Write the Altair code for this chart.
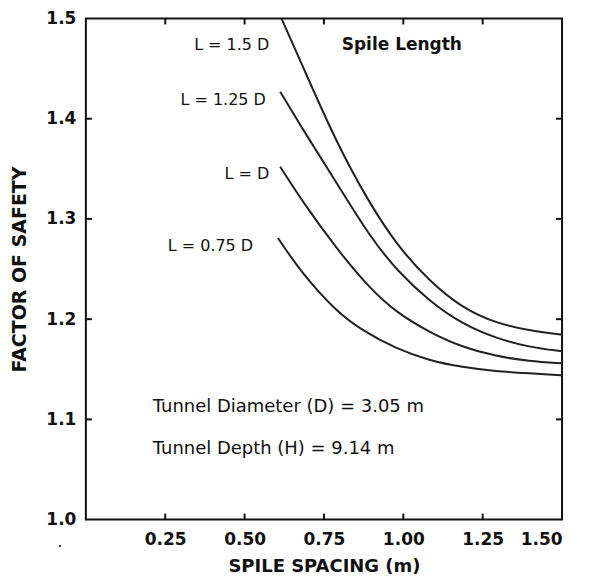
import altair as alt
import pandas as pd

# ---- data ----
series_names = ["L = 1.5 D", "L = 1.25 D", "L = D", "L = 0.75 D"]

x_15 = [0.612, 0.678, 0.788, 0.887, 0.981, 1.082, 1.186, 1.292, 1.396, 1.500]
y_15 = [1.503, 1.456, 1.377, 1.319, 1.273, 1.238, 1.211, 1.196, 1.1885, 1.1845]

x_125 = [0.612, 0.682, 0.788, 0.893, 0.981, 1.082, 1.186, 1.292, 1.396, 1.500]
y_125 = [1.427, 1.390, 1.337, 1.283, 1.248, 1.218, 1.195, 1.181, 1.172, 1.168]

x_10 = [0.612, 0.682, 0.788, 0.893, 0.981, 1.082, 1.186, 1.292, 1.396, 1.500]
y_10 = [1.352, 1.3175, 1.271, 1.231, 1.206, 1.187, 1.172, 1.163, 1.158, 1.156]

x_075 = [0.605, 0.682, 0.788, 0.871, 0.977, 1.082, 1.186, 1.292, 1.396, 1.500]
y_075 = [1.281, 1.245, 1.208, 1.1885, 1.1706, 1.1587, 1.152, 1.148, 1.146, 1.144]

x_ticks = [0.25, 0.50, 0.75, 1.00, 1.25, 1.50]
y_ticks = [1.0, 1.1, 1.2, 1.3, 1.4, 1.5]
x_inner_ticks = [0.25, 0.50, 0.75, 1.00, 1.25]
y_inner_ticks = [1.1, 1.2, 1.3, 1.4]

# label annotations (text, x, y, align)
label_text = ["L = 1.5 D", "L = 1.25 D", "L = D", "L = 0.75 D", "Spile Length"]
label_x = [0.578, 0.567, 0.578, 0.527, 0.806]
label_y = [1.474, 1.419, 1.345, 1.273, 1.474]
label_align = ["right", "right", "right", "right", "left"]

note_text = ["Tunnel Diameter (D) = 3.05 m", "Tunnel Depth (H) = 9.14 m"]
note_x = [0.211, 0.211]
note_y = [1.112, 1.070]

W, H = 477, 502

rows = []
for name, xs, ys in zip(series_names, [x_15, x_125, x_10, x_075], [y_15, y_125, y_10, y_075]):
    for i, (a, b) in enumerate(zip(xs, ys)):
        rows.append({"series": name, "x": a, "y": b, "order": i})
df = pd.DataFrame(rows)

xscale = alt.Scale(domain=[0, 1.5], nice=False, zero=False)
yscale = alt.Scale(domain=[1.0, 1.5], nice=False, zero=False)

FONT = "DejaVu Sans"
INK = "#111111"

lines = alt.Chart(df).mark_line(
    color="#222222", strokeWidth=2, interpolate="basis", clip=True
).encode(
    x=alt.X("x:Q", scale=xscale, axis=alt.Axis(
        values=x_ticks, format=".2f", title="SPILE SPACING (m)",
        ticks=False, domain=False, grid=False, labelPadding=12,
        labelFontSize=17, labelFont=FONT, labelColor=INK, labelFontWeight="bold",
        titleFontSize=18, titleFont=FONT, titleFontWeight="bold", titleColor=INK,
        titleY=47, titleBaseline="middle")),
    y=alt.Y("y:Q", scale=yscale, axis=alt.Axis(
        values=y_ticks, format=".1f", title="FACTOR OF SAFETY",
        ticks=False, domain=False, grid=False, labelPadding=10,
        labelFontSize=17, labelFont=FONT, labelColor=INK, labelFontWeight="bold",
        titleFontSize=19, titleFont=FONT, titleFontWeight="bold", titleColor=INK,
        titleX=-66, titleBaseline="middle")),
    detail="series:N",
    order="order:Q",
)

xt = pd.DataFrame({"v": x_inner_ticks})
yt = pd.DataFrame({"v": y_inner_ticks})

xtick_bottom = alt.Chart(xt).mark_rule(color=INK, strokeWidth=2).encode(
    x=alt.X("v:Q", scale=xscale), y=alt.value(H), y2=alt.value(H - 6))
xtick_top = alt.Chart(xt).mark_rule(color=INK, strokeWidth=2).encode(
    x=alt.X("v:Q", scale=xscale), y=alt.value(0), y2=alt.value(6))
ytick_left = alt.Chart(yt).mark_rule(color=INK, strokeWidth=2).encode(
    y=alt.Y("v:Q", scale=yscale), x=alt.value(0), x2=alt.value(6))
ytick_right = alt.Chart(yt).mark_rule(color=INK, strokeWidth=2).encode(
    y=alt.Y("v:Q", scale=yscale), x=alt.value(W), x2=alt.value(W - 6))

ldf = pd.DataFrame({"t": label_text, "x": label_x, "y": label_y, "a": label_align})
labels_r = alt.Chart(ldf[ldf.a == "right"]).mark_text(
    align="right", baseline="middle", fontSize=16, font=FONT, color=INK
).encode(x=alt.X("x:Q", scale=xscale), y=alt.Y("y:Q", scale=yscale), text="t:N")
labels_l = alt.Chart(ldf[ldf.a == "left"]).mark_text(
    align="left", baseline="middle", fontSize=17, font=FONT, color=INK, fontWeight="bold"
).encode(x=alt.X("x:Q", scale=xscale), y=alt.Y("y:Q", scale=yscale), text="t:N")

ndf = pd.DataFrame({"t": note_text, "x": note_x, "y": note_y})
notes = alt.Chart(ndf).mark_text(
    align="left", baseline="middle", fontSize=18, font=FONT, color=INK
).encode(x=alt.X("x:Q", scale=xscale), y=alt.Y("y:Q", scale=yscale), text="t:N")

dot = alt.Chart(pd.DataFrame({"t": ["."], "x": [-0.082], "y": [0.978]})).mark_text(
    align="center", baseline="middle", fontSize=16, font=FONT, color=INK
).encode(x=alt.X("x:Q", scale=xscale), y=alt.Y("y:Q", scale=yscale), text="t:N")

chart = alt.layer(
    lines, xtick_bottom, xtick_top, ytick_left, ytick_right, labels_r, labels_l, notes, dot
).properties(
    width=W, height=H,
    autosize=alt.AutoSizeParams(type="none"),
    padding={"left": 78, "top": 10, "right": 20, "bottom": 56},
).configure_view(
    stroke=INK, strokeWidth=2
)

chart.save("out.html", embed_options={"renderer": "svg", "actions": False})
